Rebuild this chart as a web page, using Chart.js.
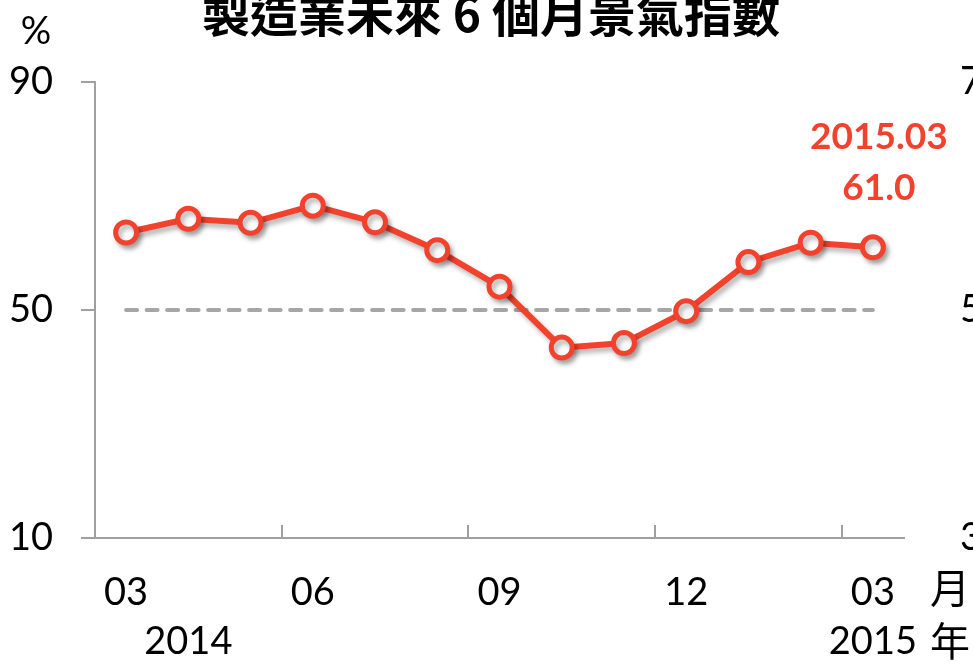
<!DOCTYPE html>
<html>
<head>
<meta charset="utf-8">
<script src="https://cdn.jsdelivr.net/npm/chart.js@4.4.0/dist/chart.umd.min.js"></script>
<style>
  html, body { margin: 0; padding: 0; background: #fff; overflow: hidden; }
  #wrap { position: relative; width: 1010px; height: 664px; }
</style>
</head>
<body>
<div id="wrap"><canvas id="chart"></canvas></div>
<script>
// ---- data ----
const periods = ['2014.03', '2014.04', '2014.05', '2014.06', '2014.07', '2014.08', '2014.09',
                 '2014.10', '2014.11', '2014.12', '2015.01', '2015.02', '2015.03'];
const monthTicks = ['03', '', '', '06', '', '', '09', '', '', '12', '', '', '03'];
const yearTicks = ['', '2014', '', '', '', '', '', '', '', '', '', '', '2015'];
const indexValues = [63.6, 66.0, 65.3, 68.3, 65.4, 60.5, 54.1, 43.4, 44.2, 49.8, 58.4, 61.8, 61.0];
const threshold = [50, 50, 50, 50, 50, 50, 50, 50, 50, 50, 50, 50, 50];
const leftTicks = [10, 50, 90];
const rightTicks = [30, 50, 70];

const red = '#f2412c';
const axisGrey = '#a0a0a0';
const numFont = "Lato, 'Open Sans', sans-serif";
const cjkFont = "'Noto Sans CJK TC', 'Noto Sans CJK SC', sans-serif";

// upward tick marks on the x axis, every 3 months at category boundaries
const xTickMarks = {
    id: 'xTickMarks',
    afterDraw(chart) {
        const ctx = chart.ctx;
        const x = chart.scales.x;
        const bottom = chart.chartArea.bottom;
        ctx.save();
        ctx.strokeStyle = axisGrey;
        ctx.lineWidth = 2;
        for (let i = 0; i < periods.length; i += 3) {
            const px = Math.round(x.getPixelForValue(i - 0.5));
            ctx.beginPath();
            ctx.moveTo(px, bottom);
            ctx.lineTo(px, bottom - 13);
            ctx.stroke();
        }
        ctx.restore();
    }
};

// soft shadow under the main line
const lineShadow = {
    id: 'lineShadow',
    beforeDatasetDraw(chart, args) {
        if (args.index !== 0) return;
        const ctx = chart.ctx;
        ctx.save();
        ctx.shadowColor = 'rgba(0,0,0,0.3)';
        ctx.shadowBlur = 5;
        ctx.shadowOffsetX = 3;
        ctx.shadowOffsetY = 4;
    },
    afterDatasetDraw(chart, args) {
        if (args.index !== 0) return;
        chart.ctx.restore();
    }
};

// title, unit marks and last-value callout
const extraText = {
    id: 'extraText',
    afterDraw(chart) {
        const ctx = chart.ctx;
        const x = chart.scales.x;
        const y = chart.scales.y;
        const last = indexValues.length - 1;
        ctx.save();
        ctx.textAlign = 'center';
        ctx.textBaseline = 'middle';
        ctx.fillStyle = '#000';

        ctx.font = "bold 48px " + cjkFont;
        ctx.fillText('製造業未來 6 個月景氣指數', 491, 14);

        ctx.font = "38px " + numFont;
        ctx.fillText('%', 36, 32);

        ctx.font = "40px " + cjkFont;
        ctx.fillText('月', 950, 588);
        ctx.fillText('年', 950, 641);

        const lx = x.getPixelForValue(last);
        const ly = y.getPixelForValue(indexValues[last]);
        ctx.fillStyle = red;
        ctx.font = "bold 37px " + numFont;
        ctx.fillText(periods[last], lx + 6, ly - 110);
        ctx.fillText(indexValues[last].toFixed(1), lx + 6, ly - 59);
        ctx.restore();
    }
};

new Chart(document.getElementById('chart'), {
    type: 'line',
    data: {
        labels: periods,
        datasets: [{
            data: indexValues,
            borderColor: red,
            borderWidth: 6,
            tension: 0,
            pointRadius: 10.5,
            pointBorderWidth: 5,
            pointBorderColor: red,
            pointBackgroundColor: '#fff',
            order: 1
        }, {
            data: threshold,
            borderColor: '#a6a6a6',
            borderWidth: 4,
            borderDash: [11, 9.5],
            borderCapStyle: 'round',
            pointRadius: 0,
            order: 2
        }]
    },
    options: {
        responsive: true,
        maintainAspectRatio: false,
        animation: false,
        layout: { padding: { top: 82, left: 0, right: 0, bottom: 0 } },
        plugins: {
            legend: { display: false },
            tooltip: { enabled: false },
            title: { display: false }
        },
        scales: {
            x: {
                offset: true,
                grid: { display: false, drawTicks: false, offset: true },
                border: { display: true, color: axisGrey, width: 2 },
                ticks: {
                    autoSkip: false,
                    maxRotation: 0,
                    padding: 30,
                    color: '#000',
                    font: { family: numFont, size: 38, lineHeight: 1.3 },
                    callback: (v, i) => yearTicks[i] ? [monthTicks[i], yearTicks[i]] : monthTicks[i]
                },
                afterFit: s => { s.height = 126; }
            },
            y: {
                position: 'left',
                min: 10,
                max: 90,
                afterBuildTicks: s => { s.ticks = leftTicks.map(v => ({ value: v })); },
                grid: { drawOnChartArea: false, drawTicks: true, tickLength: 14, color: axisGrey, lineWidth: 2 },
                border: { display: true, color: axisGrey, width: 2 },
                ticks: { padding: 28, color: '#000', font: { family: numFont, size: 38 } },
                afterFit: s => { s.width = 95; }
            },
            y1: {
                position: 'right',
                min: 30,
                max: 70,
                afterBuildTicks: s => { s.ticks = rightTicks.map(v => ({ value: v })); },
                grid: { display: false, drawTicks: false, drawOnChartArea: false },
                border: { display: false },
                ticks: { padding: 56, color: '#000', font: { family: numFont, size: 38 } },
                afterFit: s => { s.width = 106; }
            }
        }
    },
    plugins: [lineShadow, xTickMarks, extraText]
});
</script>
</body>
</html>
